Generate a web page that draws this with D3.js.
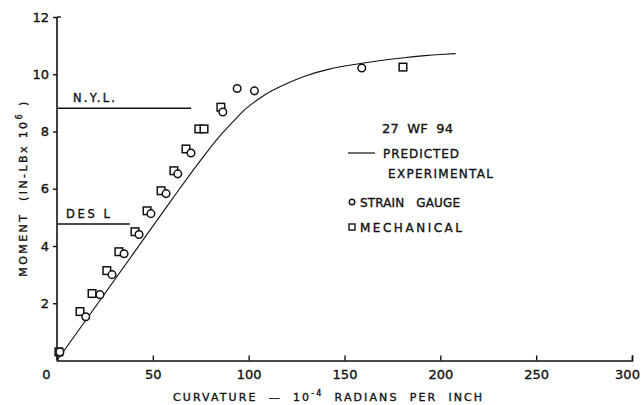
<!DOCTYPE html>
<html>
<head>
<meta charset="utf-8">
<script src="https://cdn.jsdelivr.net/npm/d3@7"></script>
<style>
  html, body { margin: 0; padding: 0; background: #fff; }
  svg text { font-family: "DejaVu Sans", sans-serif; fill: #111; stroke: #111; stroke-width: 0.35px; }
</style>
</head>
<body>
<svg id="chart" width="642" height="405"></svg>
<script>
// Moment–curvature test, 27 WF 94 beam
// Curvature in 10^-4 radians per inch, moment in in-lb x 10^6

// Predicted moment–curvature relation
const predCurvature = [0, 40, 60, 75, 85, 92, 97, 101, 106, 112, 120, 130, 142, 155, 168, 180, 192, 200, 208];
const predMoment    = [0, 3.75, 5.63, 7.0, 7.85, 8.35, 8.7, 8.93, 9.17, 9.42, 9.68, 9.95, 10.18, 10.34, 10.47, 10.57, 10.65, 10.69, 10.72];

// Experimental: strain gauge readings (circles)
const gaugeCurvature = [1.5, 15, 22.4, 28.7, 35, 42.8, 49, 56.9, 63, 69.9, 86.5, 94, 103, 159];
const gaugeMoment    = [0.3, 1.53, 2.3, 3.0, 3.73, 4.4, 5.13, 5.83, 6.52, 7.25, 8.68, 9.5, 9.42, 10.22];

// Experimental: mechanical readings (squares)
const mechCurvature = [1, 12, 18.3, 26, 32.3, 40.7, 47, 54.3, 61, 67.3, 74, 76.7, 85.5, 180.5];
const mechMoment    = [0.3, 1.71, 2.34, 3.14, 3.8, 4.5, 5.23, 5.93, 6.63, 7.39, 8.09, 8.09, 8.85, 10.25];

// Reference moment levels
const levelNames  = ["N.Y.L.", "DES L"];
const levelMoment = [8.81, 4.77];
const levelEnd    = [70, 38];

// Tick values
const xTicks = [0, 50, 100, 150, 200, 250, 300];
const yTicks = [2, 4, 6, 8, 10, 12];

const svg = d3.select("#chart");
const x = d3.scaleLinear().domain([0, 300]).range([57, 632]);
const y = d3.scaleLinear().domain([0, 12]).range([360.5, 17]);

const ink = "#111";

// X axis, ticks pointing up into the plot
const xAxis = svg.append("g")
  .attr("transform", `translate(0,${y(0)})`)
  .call(d3.axisBottom(x).tickValues(xTicks).tickSize(-5).tickPadding(9).tickFormat(d3.format("d")));
xAxis.select(".domain").attr("stroke", ink).attr("stroke-width", 1.6);
xAxis.selectAll(".tick line").attr("stroke", ink).attr("stroke-width", 1.4);
xAxis.selectAll(".tick text")
  .attr("font-size", 13).attr("fill", ink).attr("font-family", "DejaVu Sans")
  .attr("dx", d => d === 0 ? -11 : (d === 300 ? -5 : 0));
xAxis.selectAll(".tick").filter(d => d === 0).select("line").remove();

// Y axis
const yAxis = svg.append("g")
  .attr("transform", `translate(${x(0)},0)`)
  .call(d3.axisLeft(y).tickValues(yTicks).tickSize(4).tickPadding(4).tickSizeOuter(0).tickFormat(d3.format("d")));
yAxis.select(".domain").attr("stroke", ink).attr("stroke-width", 1.6)
  .attr("d", `M0,${y(12)}V${y(0)}`);
yAxis.selectAll(".tick line").attr("stroke", ink).attr("stroke-width", 1.4);
yAxis.selectAll(".tick text").attr("font-size", 13).attr("fill", ink).attr("font-family", "DejaVu Sans");
// small hook at the top of the moment axis
yAxis.append("line").attr("x1", 0).attr("x2", 4).attr("y1", y(12)).attr("y2", y(12))
  .attr("stroke", ink).attr("stroke-width", 1.4);

// Axis titles
svg.append("text")
  .attr("x", 173).attr("y", 401)
  .attr("font-size", 11).attr("letter-spacing", 2.1)
  .attr("xml:space", "preserve")
  .call(t => {
    t.append("tspan").text("CURVATURE  —  10");
    t.append("tspan").attr("dy", -5).attr("font-size", 8).text("-4");
    t.append("tspan").attr("dy", 5).text("  RADIANS  PER  INCH");
  });

svg.append("text")
  .attr("transform", "translate(27,188) rotate(-90)")
  .attr("text-anchor", "middle")
  .attr("font-size", 11).attr("letter-spacing", 2.4)
  .attr("xml:space", "preserve")
  .call(t => {
    t.append("tspan").text("MOMENT  (IN-LBx 10");
    t.append("tspan").attr("dy", -5).attr("font-size", 8).text("6");
    t.append("tspan").attr("dy", 5).text(" )");
  });

// Reference moment lines with labels
const levelLabelX = [73, 66];
const levelLabelW = [42, 44];
levelMoment.forEach((m, i) => {
  svg.append("line")
    .attr("x1", x(0.5)).attr("x2", x(levelEnd[i]))
    .attr("y1", y(m)).attr("y2", y(m))
    .attr("stroke", ink).attr("stroke-width", 1.4);
  svg.append("text")
    .attr("x", levelLabelX[i]).attr("y", y(m) - 6)
    .attr("font-size", 11.5)
    .attr("textLength", levelLabelW[i]).attr("lengthAdjust", "spacing")
    .attr("xml:space", "preserve")
    .text(levelNames[i]);
});

// Predicted curve
const predicted = predCurvature.map((c, i) => [c, predMoment[i]]);
svg.append("path")
  .datum(predicted)
  .attr("fill", "none").attr("stroke", ink).attr("stroke-width", 1.1)
  .attr("d", d3.line().x(d => x(d[0])).y(d => y(d[1])).curve(d3.curveMonotoneX));

// Mechanical readings (squares)
const mech = mechCurvature.map((c, i) => [c, mechMoment[i]]);
svg.append("g").selectAll("rect").data(mech).join("rect")
  .attr("x", d => x(d[0]) - 3.8).attr("y", d => y(d[1]) - 3.8)
  .attr("width", 7.6).attr("height", 7.6)
  .attr("fill", "#fff").attr("stroke", ink).attr("stroke-width", 1.5);

// Strain gauge readings (circles)
const gauge = gaugeCurvature.map((c, i) => [c, gaugeMoment[i]]);
svg.append("g").selectAll("circle").data(gauge).join("circle")
  .attr("cx", d => x(d[0])).attr("cy", d => y(d[1])).attr("r", 3.8)
  .attr("fill", "#fff").attr("stroke", ink).attr("stroke-width", 1.5);

// Legend
const lg = svg.append("g").attr("font-size", 12);
const legendText = (tx, ty, w, s) =>
  lg.append("text").attr("x", tx).attr("y", ty)
    .attr("textLength", w).attr("lengthAdjust", "spacing")
    .attr("xml:space", "preserve").text(s);
legendText(382, 133, 71, "27  WF  94").attr("font-size", 13);
lg.append("line").attr("x1", 348).attr("x2", 375).attr("y1", 153).attr("y2", 153)
  .attr("stroke", ink).attr("stroke-width", 1.2);
legendText(383, 157.5, 76, "PREDICTED");
legendText(388, 177.5, 105, "EXPERIMENTAL");
lg.append("circle").attr("cx", 352).attr("cy", 202).attr("r", 2.8)
  .attr("fill", "#fff").attr("stroke", ink).attr("stroke-width", 1.4);
legendText(360, 206.5, 100, "STRAIN   GAUGE");
lg.append("rect").attr("x", 349).attr("y", 224).attr("width", 6).attr("height", 6)
  .attr("fill", "#fff").attr("stroke", ink).attr("stroke-width", 1.4);
legendText(360, 231.5, 102, "MECHANICAL");
</script>
</body>
</html>
